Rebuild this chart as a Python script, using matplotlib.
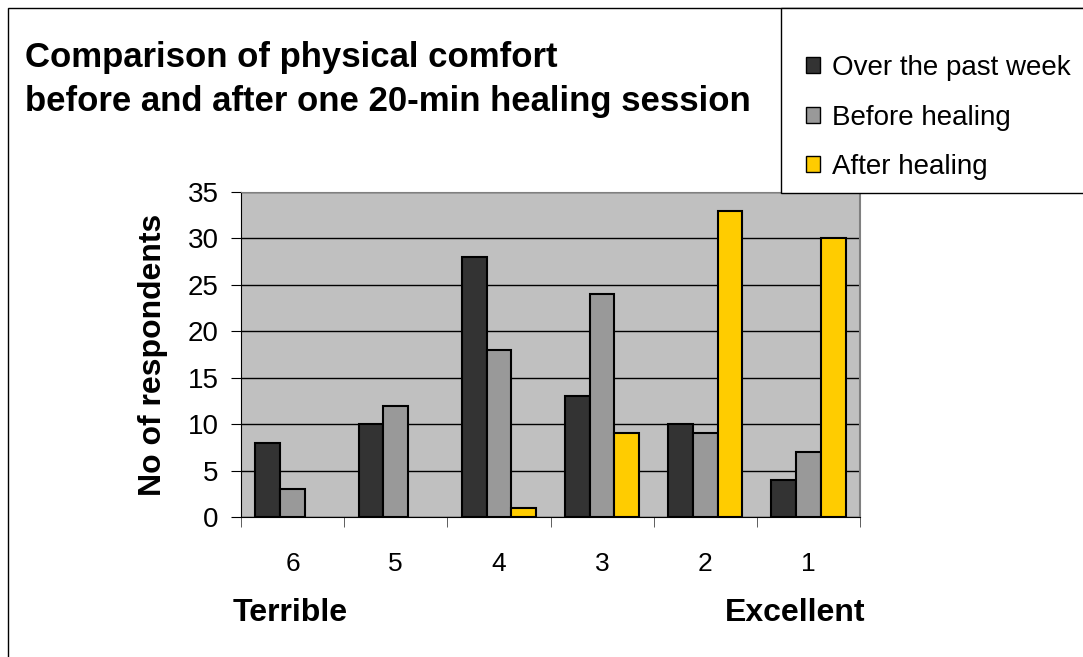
import numpy as np
import matplotlib.pyplot as plt
from matplotlib.patches import Rectangle

categories = ["6", "5", "4", "3", "2", "1"]
past_week = [8, 10, 28, 13, 10, 4]
before = [3, 12, 18, 24, 9, 7]
after = [0, 0, 1, 9, 33, 30]
series_names = ["Over the past week", "Before healing", "After healing"]
colors = ["#333333", "#999999", "#ffcc00"]

plt.rcParams['font.family'] = ['Liberation Sans', 'DejaVu Sans']

fig = plt.figure(figsize=(10.83, 6.57), dpi=100)
ax = fig.add_axes([241 / 1083, 1 - 517 / 657, 619 / 1083, 325 / 657])

x = np.arange(len(categories))
w = 0.24
for k, (vals, name, col) in enumerate(zip([past_week, before, after], series_names, colors)):
    v = np.array(vals, dtype=float)
    v[v == 0] = np.nan  # zero bars are not drawn in the original
    ax.bar(x + (k - 1) * w, v, w, color=col, edgecolor="black", linewidth=1.5,
           label=name, zorder=3)

ax.set_facecolor("#c0c0c0")
ax.set_xlim(-0.5, len(categories) - 0.5)
ax.set_ylim(0, 35)
ax.set_yticks(range(0, 36, 5))
ax.yaxis.grid(True, color="black", linewidth=1, zorder=1)
ax.set_axisbelow(True)
ax.set_xticks(x)
ax.set_xticklabels(categories)
ax.set_xticks(np.arange(-0.5, len(categories)), minor=True)
ax.tick_params(axis="x", which="major", length=0, labelsize=19, pad=25)
ax.tick_params(axis="x", which="minor", length=7, color="#444444")
ax.tick_params(axis="y", length=7, labelsize=20, pad=9)
ax.spines["top"].set_color("#808080")
ax.spines["right"].set_color("#808080")
ax.spines["right"].set_linewidth(1.5)
ax.set_ylabel("No of respondents", fontsize=23, fontweight="bold", labelpad=14)

fig.text(25 / 1083, 1 - 57 / 657, "Comparison of physical comfort", fontsize=25,
         fontweight="bold", va="center")
fig.text(25 / 1083, 1 - 102 / 657, "before and after one 20-min healing session",
         fontsize=25, fontweight="bold", va="center")
fig.text(233 / 1083, 1 - 613 / 657, "Terrible", fontsize=23, fontweight="bold", va="center")
fig.text(725 / 1083, 1 - 613 / 657, "Excellent", fontsize=23, fontweight="bold", va="center")

# figure frame (only left/top visible in crop)
fig.patches.append(Rectangle((8 / 1083, -0.1), 1.2, 1 - 8 / 657 + 0.1,
                             transform=fig.transFigure, fill=False,
                             edgecolor="black", linewidth=1))
# legend box
fig.patches.append(Rectangle((781 / 1083, 1 - 193 / 657), 0.3, 185 / 657,
                             transform=fig.transFigure, facecolor="white",
                             edgecolor="black", linewidth=1, zorder=2))

leg = fig.legend(loc="upper left", bbox_to_anchor=(781 / 1083, 1 - 30 / 657),
                 fontsize=20, frameon=False,
                 handlelength=0.5, handleheight=0.5, handletextpad=0.45,
                 labelspacing=0.85, borderpad=0.9, borderaxespad=0)
leg.set_zorder(3)
for h in leg.legend_handles:
    h.set_linewidth(1)

fig.savefig("out.png", dpi=100)
